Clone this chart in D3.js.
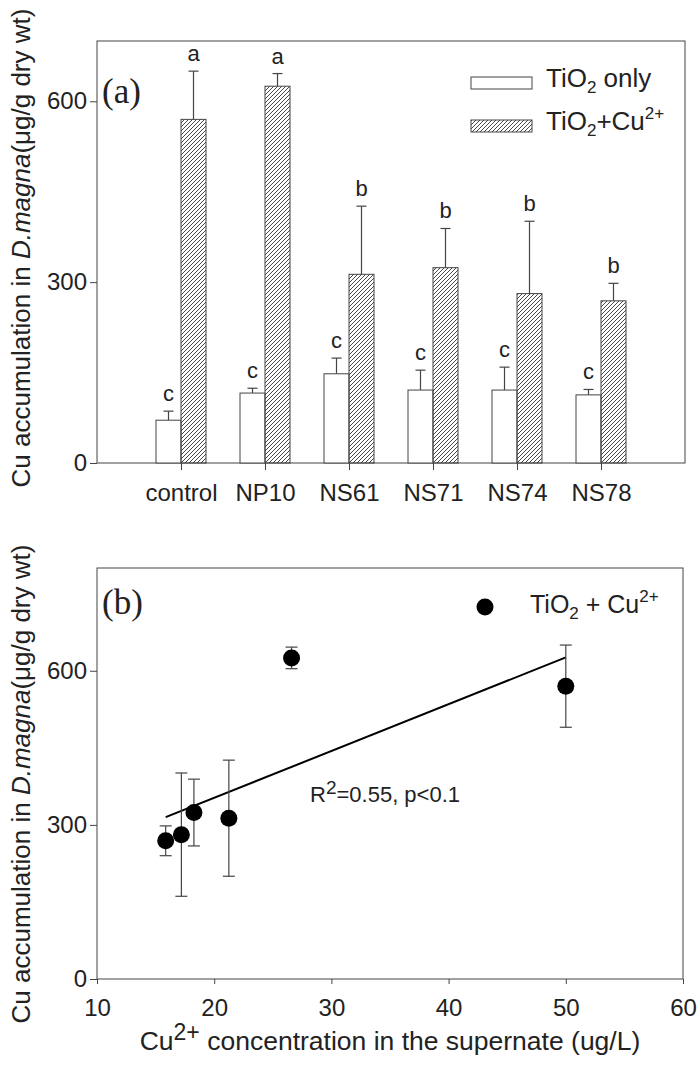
<!DOCTYPE html>
<html>
<head>
<meta charset="utf-8">
<script src="https://cdn.jsdelivr.net/npm/d3@7"></script>
<style>
  body { margin: 0; background: #fff; }
  svg { display: block; font-family: "Liberation Sans", Arial, sans-serif; }
</style>
</head>
<body>
<div id="chart"></div>
<script>
// data
const categories = ["control", "NP10", "NS61", "NS71", "NS74", "NS78"];
const tiOnly = [71, 116, 148, 121, 121, 113];
const tiOnlyErr = [15, 8, 26, 33, 38, 9];
const tiCu = [570, 625, 313, 324, 281, 269];
const tiCuErr = [80, 21, 113, 65, 120, 29];
const tiOnlyLetters = ["c", "c", "c", "c", "c", "c"];
const tiCuLetters = ["a", "a", "b", "b", "b", "b"];
// Cu2+ in supernate, same order as categories
const cuConc = [50.0, 26.6, 21.25, 18.27, 17.2, 15.86];
const yTicksA = [0, 300, 600];
const yTicksB = [0, 300, 600];
const xTicksB = [10, 20, 30, 40, 50, 60];

const width = 700, height = 1068;
const axisColor = "#444";
const textColor = "#222";
const tickFont = "24px";

const svg = d3.select("#chart")
    .append("svg")
    .attr("width", width)
    .attr("height", height);

// hatch pattern
svg.append("defs")
    .append("pattern")
    .attr("id", "hatch")
    .attr("patternUnits", "userSpaceOnUse")
    .attr("width", 4)
    .attr("height", 4)
    .append("path")
    .attr("d", "M-1,1 l2,-2 M0,4 l4,-4 M3,5 l2,-2")
    .attr("stroke", "#333")
    .attr("stroke-width", 0.9);

// ---------- panel (a) ----------
const a = { left: 97, right: 685, top: 41, bottom: 463 };
const barW = 25;

let xA = d3.scalePoint()
    .domain(categories)
    .range([a.left, a.right])
    .padding(1);

let yA = d3.scaleLinear()
    .domain([0, 700])
    .range([a.bottom, a.top]);

let sub = d3.scaleBand()
    .domain(["only", "cu"])
    .range([-barW, barW]);

const gA = svg.append("g");

gA.append("rect")
    .attr("x", a.left).attr("y", a.top)
    .attr("width", a.right - a.left).attr("height", a.bottom - a.top)
    .attr("fill", "none").attr("stroke", axisColor).attr("stroke-width", 1);

gA.append("g")
    .attr("transform", `translate(${a.left},0)`)
    .call(d3.axisLeft(yA).tickValues(yTicksA).tickSize(7).tickPadding(3))
    .call(g => g.select(".domain").remove())
    .call(g => g.selectAll("line").attr("stroke", axisColor))
    .call(g => g.selectAll("text").attr("font-size", tickFont).attr("fill", textColor).attr("font-family", "Liberation Sans, Arial"));

gA.append("g")
    .attr("transform", `translate(0,${a.bottom})`)
    .call(d3.axisBottom(xA).tickSize(7).tickPadding(14))
    .call(g => g.select(".domain").remove())
    .call(g => g.selectAll("line").attr("stroke", axisColor))
    .call(g => g.selectAll("text").attr("font-size", tickFont).attr("fill", textColor).attr("font-family", "Liberation Sans, Arial"));

const rowsA = categories.map((c, i) => ({
    cat: c, only: tiOnly[i], onlyErr: tiOnlyErr[i], cu: tiCu[i], cuErr: tiCuErr[i],
    onlyL: tiOnlyLetters[i], cuL: tiCuLetters[i]
}));

const series = [
    { key: "only", v: d => d.only, e: d => d.onlyErr, l: d => d.onlyL, fill: "#fff" },
    { key: "cu", v: d => d.cu, e: d => d.cuErr, l: d => d.cuL, fill: "url(#hatch)" }
];

series.forEach(s => {
    const g = gA.append("g");
    g.selectAll("line.err")
        .data(rowsA)
        .enter()
        .append("line")
        .attr("x1", d => xA(d.cat) + sub(s.key) + barW / 2)
        .attr("x2", d => xA(d.cat) + sub(s.key) + barW / 2)
        .attr("y1", d => yA(s.v(d)))
        .attr("y2", d => yA(s.v(d) + s.e(d)))
        .attr("stroke", axisColor).attr("stroke-width", 1.2);
    g.selectAll("line.cap")
        .data(rowsA)
        .enter()
        .append("line")
        .attr("x1", d => xA(d.cat) + sub(s.key) + barW / 2 - 5)
        .attr("x2", d => xA(d.cat) + sub(s.key) + barW / 2 + 5)
        .attr("y1", d => yA(s.v(d) + s.e(d)))
        .attr("y2", d => yA(s.v(d) + s.e(d)))
        .attr("stroke", axisColor).attr("stroke-width", 1.2);
    g.selectAll("rect")
        .data(rowsA)
        .enter()
        .append("rect")
        .attr("x", d => xA(d.cat) + sub(s.key))
        .attr("y", d => yA(s.v(d)))
        .attr("width", barW)
        .attr("height", d => yA(0) - yA(s.v(d)))
        .attr("fill", s.fill)
        .attr("stroke", axisColor).attr("stroke-width", 1);
    g.selectAll("text")
        .data(rowsA)
        .enter()
        .append("text")
        .attr("x", d => xA(d.cat) + sub(s.key) + barW / 2)
        .attr("y", d => yA(s.v(d) + s.e(d)) - 10)
        .attr("text-anchor", "middle")
        .attr("font-size", "22px")
        .attr("fill", textColor)
        .text(d => s.l(d));
});

// legend (a)
const legA = gA.append("g");
legA.append("rect").attr("x", 471).attr("y", 77).attr("width", 61).attr("height", 12)
    .attr("fill", "#fff").attr("stroke", axisColor);
legA.append("rect").attr("x", 471).attr("y", 120).attr("width", 61).attr("height", 12)
    .attr("fill", "url(#hatch)").attr("stroke", axisColor);
let t1 = legA.append("text").attr("x", 546).attr("y", 87).attr("font-size", "26px").attr("fill", textColor);
t1.append("tspan").text("TiO");
t1.append("tspan").attr("font-size", "17px").attr("dy", 6).text("2");
t1.append("tspan").attr("dy", -6).text(" only");
let t2 = legA.append("text").attr("x", 546).attr("y", 130).attr("font-size", "26px").attr("fill", textColor);
t2.append("tspan").text("TiO");
t2.append("tspan").attr("font-size", "17px").attr("dy", 6).text("2");
t2.append("tspan").attr("dy", -6).text("+Cu");
t2.append("tspan").attr("font-size", "17px").attr("dy", -11).text("2+");

gA.append("text")
    .attr("x", 102).attr("y", 103)
    .attr("font-family", "Liberation Serif, Times New Roman, serif")
    .attr("font-size", "35px").attr("fill", textColor)
    .text("(a)");

// ---------- panel (b) ----------
const b = { left: 97, right: 683, top: 568, bottom: 979 };

let xB = d3.scaleLinear()
    .domain([10, 60])
    .range([b.left, b.right]);

let yB = d3.scaleLinear()
    .domain([0, 800])
    .range([b.bottom, b.top]);

const gB = svg.append("g");

gB.append("rect")
    .attr("x", b.left).attr("y", b.top)
    .attr("width", b.right - b.left).attr("height", b.bottom - b.top)
    .attr("fill", "none").attr("stroke", axisColor).attr("stroke-width", 1);

gB.append("g")
    .attr("transform", `translate(${b.left},0)`)
    .call(d3.axisLeft(yB).tickValues(yTicksB).tickSize(7).tickPadding(3))
    .call(g => g.select(".domain").remove())
    .call(g => g.selectAll("line").attr("stroke", axisColor))
    .call(g => g.selectAll("text").attr("font-size", tickFont).attr("fill", textColor).attr("font-family", "Liberation Sans, Arial"));

gB.append("g")
    .attr("transform", `translate(0,${b.bottom})`)
    .call(d3.axisBottom(xB).tickValues(xTicksB).tickSize(5).tickPadding(15))
    .call(g => g.select(".domain").remove())
    .call(g => g.selectAll("line").attr("stroke", axisColor))
    .call(g => g.selectAll("text").attr("font-size", tickFont).attr("fill", textColor).attr("font-family", "Liberation Sans, Arial"));

const rowsB = categories.map((c, i) => ({ x: cuConc[i], y: tiCu[i], e: tiCuErr[i] }));

// least squares fit over the points
const mx = d3.mean(rowsB, d => d.x), my = d3.mean(rowsB, d => d.y);
const slope = d3.sum(rowsB, d => (d.x - mx) * (d.y - my)) / d3.sum(rowsB, d => (d.x - mx) ** 2);
const icpt = my - slope * mx;
const xr = d3.extent(rowsB, d => d.x);

gB.append("line")
    .attr("x1", xB(xr[0])).attr("y1", yB(icpt + slope * xr[0]))
    .attr("x2", xB(xr[1])).attr("y2", yB(icpt + slope * xr[1]))
    .attr("stroke", "#000").attr("stroke-width", 2);

gB.selectAll("line.err")
    .data(rowsB)
    .enter()
    .append("line")
    .attr("x1", d => xB(d.x)).attr("x2", d => xB(d.x))
    .attr("y1", d => yB(d.y - d.e)).attr("y2", d => yB(d.y + d.e))
    .attr("stroke", axisColor).attr("stroke-width", 1.2);

[1, -1].forEach(sign => {
    gB.selectAll("line.cap" + sign)
        .data(rowsB)
        .enter()
        .append("line")
        .attr("x1", d => xB(d.x) - 6).attr("x2", d => xB(d.x) + 6)
        .attr("y1", d => yB(d.y + sign * d.e)).attr("y2", d => yB(d.y + sign * d.e))
        .attr("stroke", axisColor).attr("stroke-width", 1.2);
});

gB.selectAll("circle")
    .data(rowsB)
    .enter()
    .append("circle")
    .attr("cx", d => xB(d.x))
    .attr("cy", d => yB(d.y))
    .attr("r", 8.5)
    .attr("fill", "#000");

// legend (b)
gB.append("circle").attr("cx", 485).attr("cy", 607).attr("r", 8.5).attr("fill", "#000");
let t3 = gB.append("text").attr("x", 530).attr("y", 613).attr("font-size", "25px").attr("fill", textColor);
t3.append("tspan").text("TiO");
t3.append("tspan").attr("font-size", "17px").attr("dy", 6).text("2");
t3.append("tspan").attr("dy", -6).text(" + Cu");
t3.append("tspan").attr("font-size", "17px").attr("dy", -11).text("2+");

// R2 note
let t4 = gB.append("text").attr("x", 310).attr("y", 802).attr("font-size", "22px").attr("fill", textColor);
t4.append("tspan").text("R");
t4.append("tspan").attr("font-size", "19px").attr("dy", -8).text("2");
t4.append("tspan").attr("dy", 8).text("=0.55, p<0.1");

gB.append("text")
    .attr("x", 102).attr("y", 614)
    .attr("font-family", "Liberation Serif, Times New Roman, serif")
    .attr("font-size", "35px").attr("fill", textColor)
    .text("(b)");

// x title (b)
let t5 = svg.append("text")
    .attr("x", (b.left + b.right) / 2).attr("y", 1050)
    .attr("text-anchor", "middle").attr("font-size", "26.5px").attr("fill", textColor);
t5.append("tspan").text("Cu");
t5.append("tspan").attr("font-size", "23px").attr("dy", -10).text("2+");
t5.append("tspan").attr("dy", 10).text(" concentration in the supernate (ug/L)");

// y titles
[{ cy: 248 }, { cy: 784 }].forEach(p => {
    let t = svg.append("text")
        .attr("transform", `translate(30,${p.cy}) rotate(-90)`)
        .attr("text-anchor", "middle").attr("font-size", "26px").attr("fill", textColor);
    t.append("tspan").text("Cu accumulation in ");
    t.append("tspan").attr("font-style", "italic").text("D.magna");
    t.append("tspan").text("(\u03bcg/g dry wt)");
});
</script>
</body>
</html>
